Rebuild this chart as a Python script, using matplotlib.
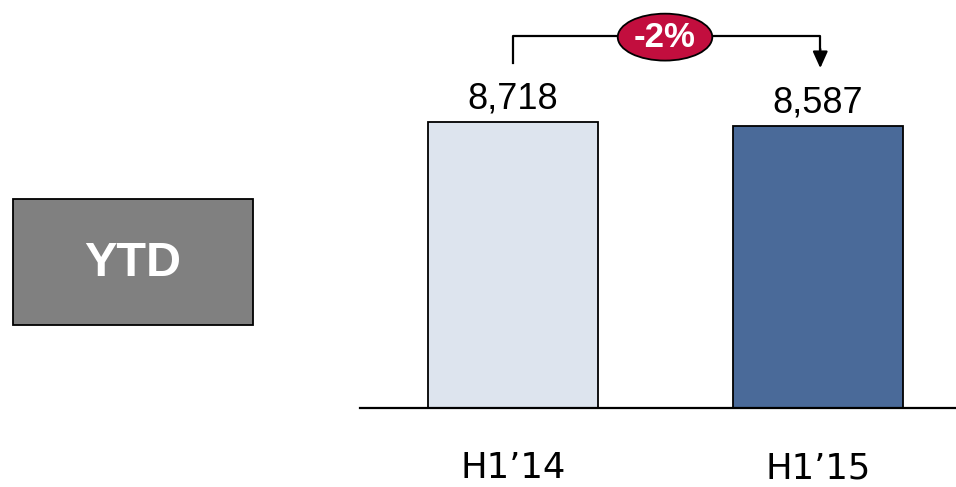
import matplotlib.pyplot as plt
from matplotlib.patches import Ellipse, Rectangle
from matplotlib.transforms import blended_transform_factory

# half-year totals
periods = ["H1\u201914", "H1\u201915"]
values = [8718, 8587]
change_label = "-2%"
bar_colors = ["#dde4ee", "#4a6a99"]

fig = plt.figure(figsize=(9.56, 4.87), dpi=100)
ax = fig.add_axes([360 / 956, 79 / 487, 596 / 956, 408 / 487])

x = [0, 1]
ax.bar(x, values, width=0.557, color=bar_colors, edgecolor="black", linewidth=1.3, zorder=2)
ax.set_xlim(-0.502, 1.452)
ax.set_ylim(0, values[0] * 408 / 286)

for xi, v in zip(x, values):
    ax.annotate(f"{v:,}", (xi, v), xytext=(0, 10), textcoords="offset points",
                ha="center", va="baseline", fontsize=26, family="Liberation Sans")

for s in ["top", "right", "left"]:
    ax.spines[s].set_visible(False)
ax.spines["bottom"].set_linewidth(1.6)
ax.set_yticks([])
ax.set_xticks(x)
ax.set_xticklabels(periods, fontsize=25.5, family="DejaVu Sans")
ax.tick_params(axis="x", length=0, pad=31)

# change bracket between the two bars
trans = blended_transform_factory(ax.transData, ax.transAxes)
y_top = 0.912
ax.plot([0, 0, 1.007, 1.007], [0.846, y_top, y_top, 0.87], color="black",
        linewidth=1.6, transform=trans, clip_on=False, zorder=3)
ax.annotate("", xy=(1.007, 0.833), xytext=(1.007, 0.88), xycoords=trans, textcoords=trans,
            arrowprops=dict(arrowstyle="-|>,head_length=1.0,head_width=0.45",
                            color="black", linewidth=1.6, shrinkA=0, shrinkB=0))
ell = Ellipse((0.498, y_top - 0.003), 0.31, 0.115, transform=trans, facecolor="#c20e3e",
              edgecolor="black", linewidth=1.3, zorder=4, clip_on=False)
ax.add_patch(ell)
ax.text(0.498, y_top - 0.003, change_label, transform=trans, ha="center", va="center",
        color="white", fontsize=25, fontweight="bold", family="Liberation Sans", zorder=5)

# YTD tag on the left
fig.patches.append(Rectangle((13 / 956, 1 - 325 / 487), 240 / 956, 126 / 487,
                             transform=fig.transFigure, facecolor="#808080",
                             edgecolor="black", linewidth=1.3))
fig.text(133 / 956, 1 - 263 / 487, "YTD", ha="center", va="center", color="white",
         fontsize=35, fontweight="bold", family="Liberation Sans")

fig.savefig("out.png", dpi=100)
